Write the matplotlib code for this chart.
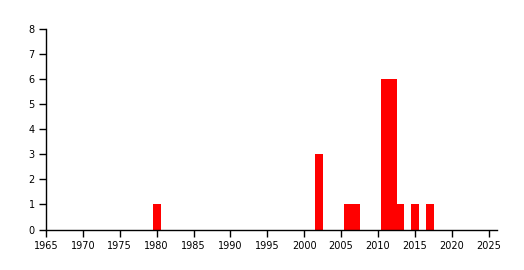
import matplotlib
matplotlib.use("Agg")
import matplotlib.pyplot as plt

years = [1980, 2002, 2006, 2007, 2011, 2012, 2013, 2015, 2017]
counts = [1, 3, 1, 1, 6, 6, 1, 1, 1]
xticks = list(range(1965, 2030, 5))
yticks = list(range(0, 9))

fig = plt.figure(figsize=(5.24, 2.7), dpi=100)
ax = fig.add_axes([46/524, 1 - 229.5/270, (496.7 - 46)/524, (229.5 - 29)/270])
ax.bar(years, counts, width=1.07, color="#ff0000", linewidth=0)
ax.set_xlim(1965, 2026.1)
ax.set_ylim(0, 8)
ax.set_xticks(xticks)
ax.set_yticks(yticks)
for s in ["top", "right"]:
    ax.spines[s].set_visible(False)
for s in ["left", "bottom"]:
    ax.spines[s].set_linewidth(1)
ax.tick_params(axis="both", length=5, width=1, labelsize=7, pad=3)
fig.savefig("out.png", dpi=100)
